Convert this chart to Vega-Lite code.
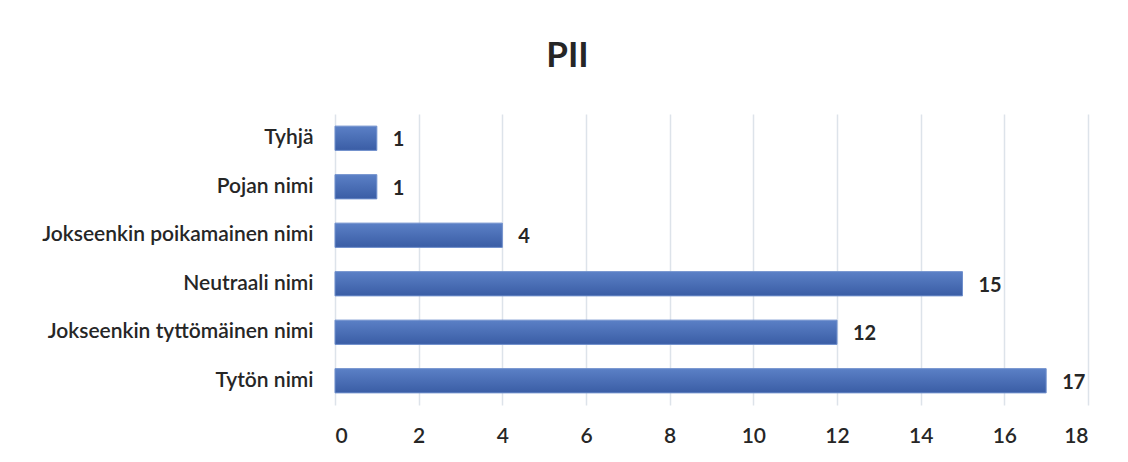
{
  "$schema": "https://vega.github.io/schema/vega-lite/v6.json",
  "autosize": "none",
  "width": 753,
  "height": 291,
  "padding": {"left": 335, "top": 114, "right": 40, "bottom": 57},
  "background": "white",
  "title": {
    "text": "PII",
    "fontSize": 35,
    "fontWeight": "bold",
    "font": "Lato",
    "color": "#262626",
    "anchor": "middle",
    "offset": 40,
    "dx": -144
  },
  "data": {
    "values": [
      {"category": "Tyhjä", "value": 1},
      {"category": "Pojan nimi", "value": 1},
      {"category": "Jokseenkin poikamainen nimi", "value": 4},
      {"category": "Neutraali nimi", "value": 15},
      {"category": "Jokseenkin tyttömäinen nimi", "value": 12},
      {"category": "Tytön nimi", "value": 17}
    ]
  },
  "encoding": {
    "y": {
      "field": "category",
      "type": "nominal",
      "sort": null,
      "scale": {"paddingInner": 0.5, "paddingOuter": 0.25},
      "axis": {
        "title": null,
        "ticks": false,
        "domain": false,
        "labelFont": "Lato",
        "labelFontSize": 21,
        "labelFontWeight": 600,
        "labelColor": "#262626",
        "labelLimit": 400,
        "labelPadding": 22
      }
    },
    "x": {
      "field": "value",
      "type": "quantitative",
      "scale": {"domain": [0, 18], "nice": false},
      "axis": {
        "title": null,
        "values": [0, 2, 4, 6, 8, 10, 12, 14, 16, 18],
        "ticks": false,
        "domain": false,
        "grid": true,
        "gridColor": "#dde3ea",
        "gridWidth": 1.5,
        "labelFont": "Lato",
        "labelFontSize": 21,
        "labelFontWeight": 600,
        "labelColor": "#262626",
        "labelPadding": 20
      }
    }
  },
  "layer": [
    {
      "mark": {
        "type": "bar",
        "fill": {
          "gradient": "linear",
          "x1": 0, "y1": 0, "x2": 0, "y2": 1,
          "stops": [
            {"offset": 0, "color": "#5b80c6"},
            {"offset": 1, "color": "#3a5da5"}
          ]
        },
        "stroke": "#6f8fcc",
        "strokeWidth": 1
      }
    },
    {
      "mark": {
        "type": "text",
        "align": "left",
        "baseline": "middle",
        "dx": 16,
        "dy": 2,
        "font": "Lato",
        "fontSize": 20,
        "fontWeight": "bold",
        "color": "#262626"
      },
      "encoding": {"text": {"field": "value", "type": "quantitative"}}
    }
  ],
  "config": {"view": {"stroke": null}}
}
